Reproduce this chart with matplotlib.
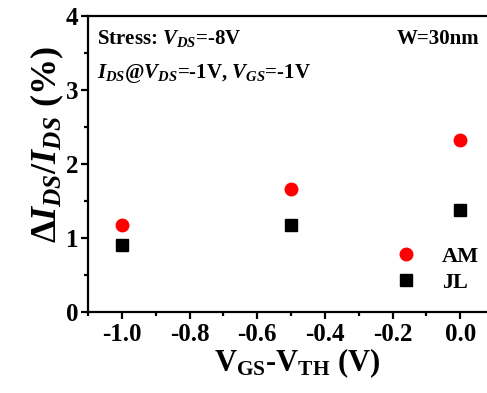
import matplotlib
matplotlib.use("Agg")
import matplotlib.pyplot as plt
from matplotlib.ticker import MultipleLocator, FormatStrFormatter

plt.rcParams['font.family'] = 'Liberation Serif'
plt.rcParams['font.weight'] = 'bold'
plt.rcParams['axes.labelweight'] = 'bold'
plt.rcParams['mathtext.fontset'] = 'custom'
plt.rcParams['mathtext.rm'] = 'Liberation Serif:bold'
plt.rcParams['mathtext.bf'] = 'Liberation Serif:bold'
plt.rcParams['mathtext.it'] = 'Liberation Serif:italic:bold'

# data
vgs_vth = [-1.0, -0.5, 0.0]
am = [1.17, 1.66, 2.32]
jl = [0.91, 1.18, 1.38]

fig = plt.figure(figsize=(4.87, 3.93), dpi=100)
ax = fig.add_axes([0.1807, 0.2061, 0.8337, 0.7532])

ax.plot(vgs_vth, am, 'o', color='red', markersize=9, label='AM')
ax.plot(vgs_vth, jl, 's', color='black', markersize=8, label='JL')

ax.set_xlim(-1.1, 0.1)
ax.set_ylim(0, 4)
ax.xaxis.set_major_locator(MultipleLocator(0.2))
ax.xaxis.set_minor_locator(MultipleLocator(0.1))
ax.yaxis.set_major_locator(MultipleLocator(1))
ax.yaxis.set_minor_locator(MultipleLocator(0.5))
ax.xaxis.set_major_formatter(FormatStrFormatter('%.1f'))

for s in ax.spines.values():
    s.set_linewidth(1.6)
ax.spines['right'].set_visible(False)
ax.tick_params(which='major', direction='out', length=5, width=1.6, labelsize=18)
ax.tick_params(which='minor', direction='out', length=3, width=1.6)
ax.tick_params(axis='x', pad=3)
ax.tick_params(axis='y', pad=2)

ax.set_xlabel(r'V$_{\rm GS}$-V$_{\rm TH}$ (V)', fontsize=22)
ax.xaxis.set_label_coords(0.515, -0.115)
ax.set_ylabel(r'$\mathit{\Delta}I_{DS}/I_{DS}$ (%)', fontsize=26)
ax.yaxis.set_label_coords(-0.055, 0.565)

ax.text(0.022, 0.905, r'Stress: $V_{DS}$=-8V', transform=ax.transAxes, fontsize=15)
ax.text(0.022, 0.79, r'$I_{DS}$@$V_{DS}$=-1V, $V_{GS}$=-1V', transform=ax.transAxes, fontsize=15)
ax.text(0.963, 0.905, 'W=30nm', transform=ax.transAxes, fontsize=15, ha='right')

ax.legend(loc='lower right', bbox_to_anchor=(0.985, 0.035), frameon=False, fontsize=16,
          handletextpad=0.6, labelspacing=0.25, borderaxespad=0)

fig.savefig('out.png', dpi=100)
